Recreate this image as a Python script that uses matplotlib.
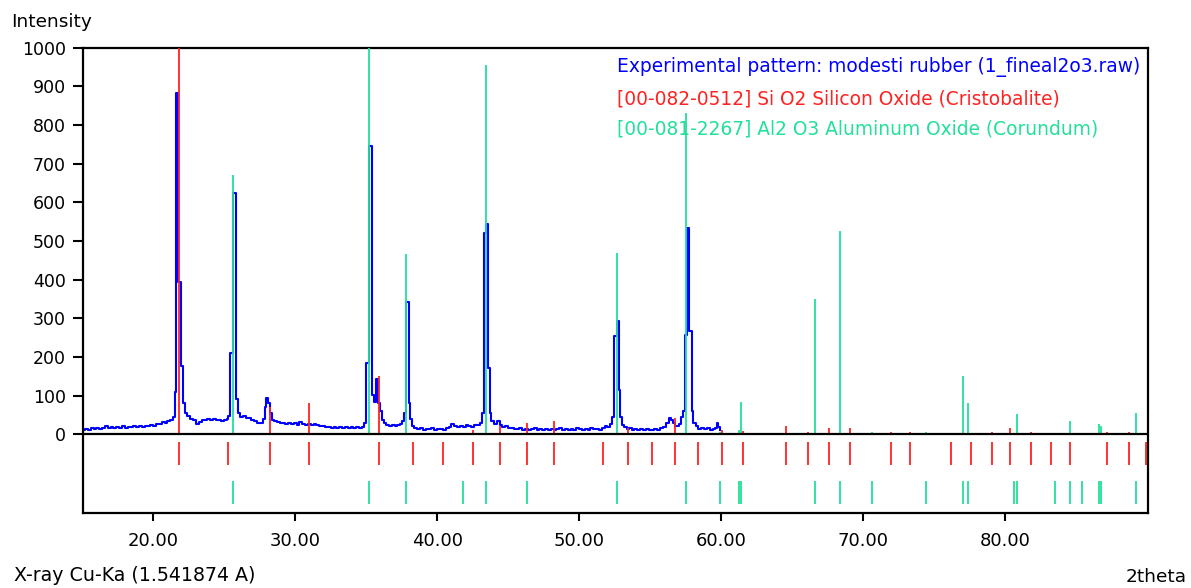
import matplotlib.pyplot as plt

# experimental pattern (2theta start of each step, intensity)
exp_x = [15.0, 15.2, 15.4, 15.6, 15.8, 16.0, 16.2, 16.4, 16.6, 16.8, 17.0, 17.2, 17.4, 17.6, 17.8,
         18.0, 18.2, 18.4, 18.6, 18.8, 19.0, 19.2, 19.4, 19.6, 19.8, 20.0, 20.2, 20.4, 20.6, 20.8,
         21.0, 21.2, 21.4, 21.50, 21.62, 21.77, 21.98, 22.10, 22.24, 22.40,
         22.6, 22.8, 23.0, 23.2, 23.4, 23.6, 23.8, 24.0, 24.2, 24.4, 24.6, 24.8, 25.0, 25.2, 25.3,
         25.43, 25.65, 25.86, 25.96, 26.1, 26.3, 26.5, 26.7, 26.9, 27.1, 27.3, 27.5, 27.7, 27.85,
         27.94, 28.08, 28.2, 28.35, 28.5, 28.7, 28.9, 29.1, 29.3, 29.5, 29.7, 29.9, 30.1, 30.3,
         30.5, 30.7, 30.9, 31.1, 31.3, 31.5, 31.7, 31.9, 32.1, 32.3, 32.5, 32.7, 32.9, 33.1, 33.3,
         33.5, 33.7, 33.9, 34.1, 34.3, 34.5, 34.7, 34.87,
         34.99, 35.22, 35.38, 35.52, 35.66, 35.84, 35.98, 36.08, 36.25, 36.4, 36.6, 36.8, 37.0,
         37.2, 37.4, 37.55, 37.68, 37.84, 38.00, 38.10, 38.25,
         38.4, 38.6, 38.8, 39.0, 39.2, 39.4, 39.6, 39.8, 40.0, 40.2, 40.4, 40.6, 40.8, 41.0, 41.2,
         41.4, 41.6, 41.8, 42.0, 42.2, 42.4, 42.6, 42.8, 43.0, 43.19,
         43.30, 43.44, 43.58, 43.70, 43.82, 44.0, 44.2, 44.4, 44.6, 44.8, 45.0, 45.2, 45.4, 45.6,
         45.8, 46.0, 46.2, 46.4, 46.6, 46.8, 47.0, 47.2, 47.4, 47.6, 47.8, 48.0, 48.2, 48.4, 48.6,
         48.8, 49.0, 49.2, 49.4, 49.6, 49.8, 50.0, 50.2, 50.4, 50.6, 50.8, 51.0, 51.2, 51.4, 51.6,
         51.8, 52.0, 52.2, 52.34,
         52.45, 52.64, 52.78, 52.90, 53.02, 53.15, 53.35, 53.5, 53.7, 53.9, 54.1, 54.3, 54.5,
         54.7, 54.9, 55.1, 55.3, 55.5, 55.7, 55.9, 56.1, 56.3, 56.45, 56.6, 56.75, 56.9, 57.05,
         57.2, 57.35,
         57.47, 57.62, 57.76, 57.92, 58.04, 58.2, 58.4, 58.6, 58.8, 59.0, 59.2, 59.4, 59.6, 59.7,
         59.8, 59.9]
exp_y = [12, 14, 11, 15, 13, 17, 14, 16, 22, 17, 19, 16, 18, 17, 20,
         17, 19, 18, 21, 18, 20, 19, 22, 20, 25, 22, 27, 26, 31, 30,
         35, 36, 45, 110, 882, 394, 177, 82, 54, 46,
         40, 36, 27, 32, 38, 36, 40, 37, 39, 36, 38, 35, 38, 40, 48,
         211, 623, 90, 55, 44, 47, 41, 43, 38, 33, 28, 30, 40, 70,
         93, 80, 55, 38, 35, 32, 30, 28, 27, 30, 26, 28, 25, 31,
         27, 24, 26, 25, 27, 24, 22, 21, 18, 19, 16, 18, 17, 18, 16,
         19, 17, 18, 16, 18, 17, 19, 30,
         185, 746, 102, 84, 142, 82, 60, 37, 28, 24, 21, 23, 20,
         24, 26, 33, 54, 343, 80, 40, 20,
         16, 14, 15, 12, 14, 13, 15, 12, 14, 13, 12, 15, 18, 27, 20,
         18, 21, 19, 24, 20, 18, 25, 23, 28, 54,
         520, 543, 171, 55, 35, 27, 33, 24, 18, 20, 15, 17, 14, 13,
         15, 12, 14, 11, 13, 15, 12, 14, 11, 13, 12, 14, 11, 13, 15,
         12, 13, 11, 14, 12, 15, 13, 12, 14, 12, 15, 13, 14, 12, 17,
         21, 18, 27, 45,
         253, 293, 115, 45, 25, 18, 14, 16, 12, 14, 11, 13, 12,
         14, 11, 12, 14, 12, 15, 18, 28, 41, 38, 30, 22, 20, 27,
         45, 60,
         257, 534, 267, 60, 30, 20, 14, 16, 13, 15, 12, 14, 17, 30,
         18, 12]

# [00-082-0512] Si O2 cristobalite reference lines
si_pos = [21.81, 25.24, 28.22, 30.99, 35.93, 38.28, 40.44, 42.51, 44.43, 46.34, 48.26, 51.69,
          53.47, 55.12, 56.77, 58.41, 60.06, 61.58, 64.59, 66.09, 67.60, 69.10, 71.97, 73.33,
          76.22, 77.58, 79.08, 80.32, 81.83, 83.21, 84.58, 87.19, 88.71, 89.96]
si_int = [1000, 2, 70, 82, 151, 2, 1, 11, 21, 30, 35, 3,
          16, 1, 42, 1, 11, 9, 20, 7, 16, 15, 5, 5,
          1, 1, 5, 15, 5, 1, 1, 5, 5, 1]

# [00-081-2267] Al2 O3 corundum reference lines
al_pos = [25.64, 35.22, 37.81, 41.83, 43.47, 46.34, 52.66, 57.56, 59.91, 61.28, 61.40, 66.61,
          68.39, 70.60, 74.43, 77.04, 77.43, 80.61, 80.87, 83.50, 84.58, 85.43, 86.65, 86.77,
          89.23]
al_int = [670, 1000, 465, 1, 955, 3, 470, 830, 5, 10, 83, 350,
          525, 5, 5, 150, 82, 2, 51, 2, 35, 1, 26, 22,
          56]

blue = '#0000ff'
red = '#ff2222'
green = '#22e09a'

plt.rcParams['font.family'] = 'DejaVu Sans'
fig = plt.figure(figsize=(11.91, 5.88), dpi=100)
ax = fig.add_axes([0.0699, 0.1281, 0.8937, 0.7908])

ax.plot(exp_x, exp_y, drawstyle='steps-post', color=blue, lw=1.5, zorder=2)
ax.vlines(si_pos, 0, si_int, color=red, lw=1.3, zorder=3)
ax.vlines(al_pos, 0, al_int, color=green, lw=1.3, zorder=3)
# stick rows under the zero line
ax.vlines(si_pos, -79, -21, color=red, lw=1.3)
ax.vlines(al_pos, -180, -120, color=green, lw=1.3)
ax.axhline(0, color='black', lw=1.6, zorder=4)

ax.set_xlim(15.07, 90.05)
ax.set_ylim(-203, 1000)
ax.set_yticks(range(0, 1001, 100))
ax.set_xticks(range(20, 81, 10))
ax.set_xticklabels(['%.2f' % v for v in range(20, 81, 10)])
ax.tick_params(axis='y', direction='out', length=7.5, width=1.5, pad=5, labelsize=12.5)
ax.tick_params(axis='x', direction='out', length=6, width=1.5, pad=8, labelsize=13)
for s in ax.spines.values():
    s.set_linewidth(1.6)

lx = 0.5014
ax.text(lx, 0.9585, 'Experimental pattern: modesti rubber (1_fineal2o3.raw)', color=blue,
        transform=ax.transAxes, fontsize=13.4, va='center', zorder=1)
ax.text(lx, 0.8895, '[00-082-0512] Si O2 Silicon Oxide (Cristobalite)', color=red,
        transform=ax.transAxes, fontsize=13.4, va='center', zorder=1)
ax.text(lx, 0.8249, '[00-081-2267] Al2 O3 Aluminum Oxide (Corundum)', color=green,
        transform=ax.transAxes, fontsize=13.4, va='center', zorder=1)

fig.text(0.009, 0.9626, 'Intensity', fontsize=13.3, va='center', ha='left')
fig.text(0.012, 0.022, 'X-ray Cu-Ka (1.541874 A)', fontsize=13.7, va='center', ha='left')
fig.text(0.9966, 0.019, '2theta', fontsize=13.3, va='center', ha='right')

fig.savefig('out.png', dpi=100)
